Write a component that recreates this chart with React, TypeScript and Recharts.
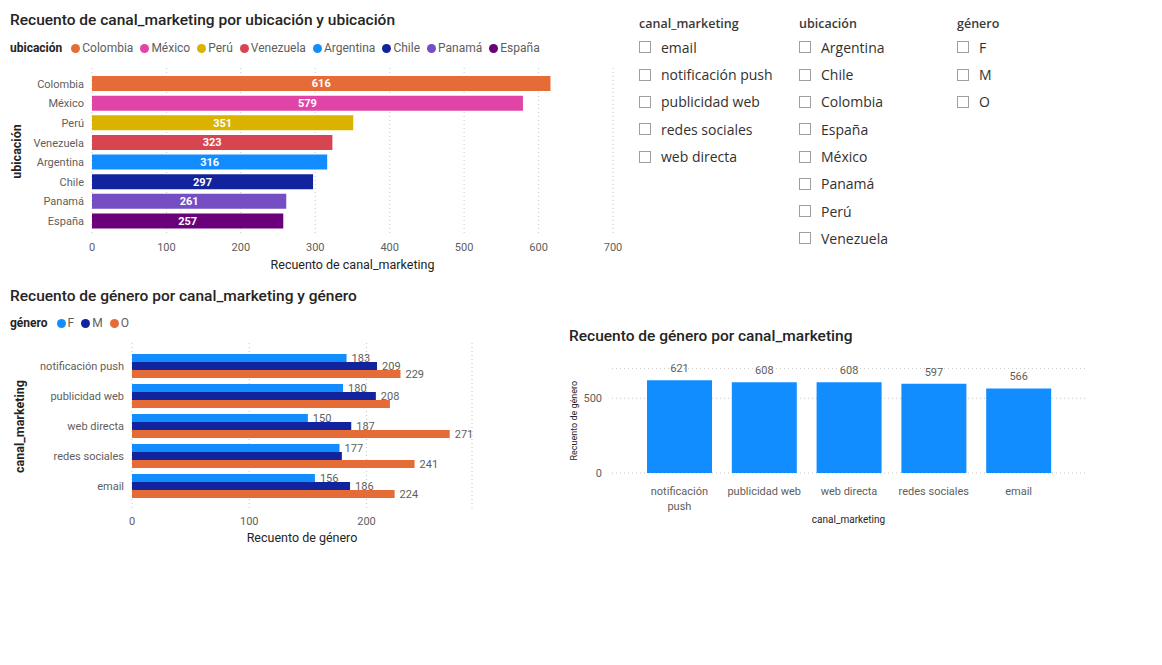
import { BarChart, Bar, XAxis, YAxis, CartesianGrid, LabelList, Cell } from 'recharts'

// Recuento por ubicación
const ubicaciones = ['Colombia', 'México', 'Perú', 'Venezuela', 'Argentina', 'Chile', 'Panamá', 'España']
const recuentoUbicacion = [616, 579, 351, 323, 316, 297, 261, 257]
const coloresUbicacion = ['#E66C37', '#E044A7', '#D9B300', '#D64550', '#118DFF', '#12239E', '#744EC2', '#6B007B']
const ticksUbicacion = [0, 100, 200, 300, 400, 500, 600, 700]

// Recuento de género por canal
const canales = ['notificación push', 'publicidad web', 'web directa', 'redes sociales', 'email']
const generos = ['F', 'M', 'O']
const coloresGenero = ['#118DFF', '#12239E', '#E66C37']
const recuentoF = [183, 180, 150, 177, 156]
const recuentoM = [209, 208, 187, 179, 186]
const recuentoO = [229, 220, 271, 241, 224]
const ticksGenero = [0, 100, 200]
// etiquetas que se solapan y no se muestran
const etiquetasOcultas: Record<string, string[]> = { F: [], M: ['redes sociales'], O: ['publicidad web'] }

// Total por canal
const recuentoCanal = [621, 608, 608, 597, 566]
const ticksCanal = [0, 500]

// Segmentaciones
const slicerCanal = ['email', 'notificación push', 'publicidad web', 'redes sociales', 'web directa']
const slicerUbicacion = ['Argentina', 'Chile', 'Colombia', 'España', 'México', 'Panamá', 'Perú', 'Venezuela']
const slicerGenero = ['F', 'M', 'O']

const FONT = 'Roboto, "DejaVu Sans", sans-serif'
const GRIS = '#605E5C'
const OSCURO = '#252423'
const GRID = '#C8C6C4'

const dataUbicacion = ubicaciones.map((name, i) => ({ name, value: recuentoUbicacion[i] }))
const dataGenero = canales.map((name, i) => ({ name, F: recuentoF[i], M: recuentoM[i], O: recuentoO[i] }))
const dataCanal = canales.map((name, i) => ({ name, value: recuentoCanal[i] }))

const tickStyle = { fontSize: 11, fill: GRIS, fontFamily: FONT }

function Titulo({ x, y, children }: { x: number; y: number; children: string }) {
  return (
    <div style={{ position: 'absolute', left: x, top: y - 10, lineHeight: '20px', fontSize: 15.5, fontWeight: 500, color: OSCURO, whiteSpace: 'nowrap' }}>
      {children}
    </div>
  )
}

function Leyenda({ x, y, titulo, items, colores }: { x: number; y: number; titulo: string; items: string[]; colores: string[] }) {
  return (
    <div style={{ position: 'absolute', left: x, top: y - 8, height: 16, display: 'flex', alignItems: 'center', fontSize: 12, whiteSpace: 'nowrap' }}>
      <span style={{ fontWeight: 700, color: OSCURO, marginRight: 9 }}>{titulo}</span>
      {items.map((it, i) => (
        <span key={it} style={{ display: 'flex', alignItems: 'center', marginRight: 7, color: GRIS }}>
          <span style={{ width: 9, height: 9, borderRadius: '50%', background: colores[i], marginRight: 2 }} />
          {it}
        </span>
      ))}
    </div>
  )
}

function Segmentacion({ x, titulo, items }: { x: number; titulo: string; items: string[] }) {
  return (
    <div style={{ position: 'absolute', left: x, top: 0, fontFamily: '"Open Sans", sans-serif' }}>
      <div style={{ position: 'absolute', top: 16, left: 0, fontSize: 12.5, fontWeight: 600, color: '#3B3A39', whiteSpace: 'nowrap', lineHeight: '16px' }}>
        {titulo}
      </div>
      {items.map((it, i) => (
        <div key={it} style={{ position: 'absolute', top: 47.3 + i * 27.3 - 9, left: 0, height: 18, display: 'flex', alignItems: 'center', whiteSpace: 'nowrap' }}>
          <span style={{ width: 12, height: 12, boxSizing: 'border-box', border: '1px solid #A19F9D', marginRight: 10 }} />
          <span style={{ fontSize: 14, color: '#323130' }}>{it}</span>
        </div>
      ))}
    </div>
  )
}

function etiquetaGenero(genero: string) {
  return (props: any) => {
    const { x, y, width, height } = props.viewBox || props
    if (etiquetasOcultas[genero].includes(canales[props.index])) return null
    return (
      <text x={x + width + 5} y={y + height / 2} dy="0.35em" fontSize={11} fill={GRIS} fontFamily={FONT}>
        {props.value}
      </text>
    )
  }
}

// las etiquetas largas se parten en dos líneas en el último espacio
function CanalTick({ x, y, payload }: any) {
  const txt: string = payload.value
  const corte = txt.lastIndexOf(' ')
  const lineas = txt.length > 15 && corte > 0 ? [txt.slice(0, corte), txt.slice(corte + 1)] : [txt]
  return (
    <text x={x} y={y} textAnchor="middle" fontSize={11} fill={GRIS} fontFamily={FONT}>
      {lineas.map((l, i) => (
        <tspan key={i} x={x} dy={i === 0 ? '0.71em' : 15}>
          {l}
        </tspan>
      ))}
    </text>
  )
}

export default function App() {
  return (
    <div style={{ position: 'absolute', left: 0, top: 0, width: 1162, height: 665, background: '#fff', fontFamily: FONT, overflow: 'hidden' }}>
      <Titulo x={10} y={20}>Recuento de canal_marketing por ubicación y ubicación</Titulo>
      <Leyenda x={10} y={48} titulo="ubicación" items={ubicaciones} colores={coloresUbicacion} />

      <div style={{ position: 'absolute', left: 0, top: 60 }}>
        <BarChart width={640} height={220} data={dataUbicacion} layout="vertical" margin={{ top: 8, right: 27, bottom: 6, left: 0 }}>
          <CartesianGrid horizontal={false} stroke={GRID} strokeDasharray="1 3" />
          <XAxis
            type="number"
            domain={[0, 700]}
            ticks={ticksUbicacion}
            axisLine={false}
            tickLine={false}
            height={39}
            tick={tickStyle}
            label={{ value: 'Recuento de canal_marketing', position: 'insideBottom', offset: 5, fontSize: 12.5, fill: OSCURO, fontFamily: FONT }}
          />
          <YAxis
            type="category"
            dataKey="name"
            width={92}
            interval={0}
            axisLine={false}
            tickLine={false}
            padding={{ top: 6, bottom: 4 }}
            tick={tickStyle}
            label={{ value: 'ubicación', angle: -90, position: 'insideLeft', offset: 17, fontSize: 12.5, fontWeight: 700, fill: OSCURO, fontFamily: FONT, style: { textAnchor: 'middle' } }}
          />
          <Bar dataKey="value" barSize={15} isAnimationActive={false}>
            {dataUbicacion.map((d, i) => (
              <Cell key={d.name} fill={coloresUbicacion[i]} />
            ))}
            <LabelList dataKey="value" position="center" fill="#fff" fontSize={11} fontWeight={700} fontFamily={FONT} />
          </Bar>
        </BarChart>
      </div>

      <Titulo x={10} y={296}>Recuento de género por canal_marketing y género</Titulo>
      <Leyenda x={10} y={323} titulo="género" items={generos} colores={coloresGenero} />

      <div style={{ position: 'absolute', left: 0, top: 335 }}>
        <BarChart width={500} height={220} data={dataGenero} layout="vertical" barGap={0} margin={{ top: 8, right: 28, bottom: 8, left: 0 }}>
          <CartesianGrid horizontal={false} stroke={GRID} strokeDasharray="1 3" />
          <XAxis
            type="number"
            domain={[0, 290]}
            ticks={ticksGenero}
            axisLine={false}
            tickLine={false}
            tickMargin={1}
            height={37}
            tick={tickStyle}
            label={{ value: 'Recuento de género', position: 'insideBottom', offset: 5, fontSize: 12.5, fill: OSCURO, fontFamily: FONT }}
          />
          <YAxis
            type="category"
            dataKey="name"
            width={132}
            interval={0}
            axisLine={false}
            tickLine={false}
            padding={{ top: 8, bottom: 9 }}
            tick={tickStyle}
            label={{ value: 'canal_marketing', angle: -90, position: 'insideLeft', offset: 20, fontSize: 12.5, fontWeight: 700, fill: OSCURO, fontFamily: FONT, style: { textAnchor: 'middle' } }}
          />
          {generos.map((g, i) => (
            <Bar key={g} dataKey={g} fill={coloresGenero[i]} barSize={8} isAnimationActive={false}>
              <LabelList dataKey={g} content={etiquetaGenero(g)} />
            </Bar>
          ))}
        </BarChart>
      </div>

      <Titulo x={569} y={336}>Recuento de género por canal_marketing</Titulo>

      <div style={{ position: 'absolute', left: 560, top: 355 }}>
        <BarChart width={540} height={180} data={dataCanal} margin={{ top: 13.4, right: 15, bottom: 7.5, left: 0 }}>
          <CartesianGrid vertical={false} stroke={GRID} strokeDasharray="1 3" />
          <XAxis
            dataKey="name"
            interval={0}
            axisLine={false}
            tickLine={false}
            tickMargin={8}
            height={54.5}
            padding={{ left: 25, right: 24 }}
            tick={<CanalTick />}
            label={{ value: 'canal_marketing', position: 'insideBottom', offset: 5, fontSize: 10, fill: OSCURO, fontFamily: FONT }}
          />
          <YAxis
            type="number"
            domain={[0, 700]}
            ticks={ticksCanal}
            width={52}
            axisLine={false}
            tickLine={false}
            tickMargin={4}
            tick={tickStyle}
            label={{ value: 'Recuento de género', angle: -90, position: 'insideLeft', offset: 14, fontSize: 9, fill: OSCURO, fontFamily: FONT, style: { textAnchor: 'middle' } }}
          />
          <Bar dataKey="value" fill="#118DFF" barSize={65} isAnimationActive={false}>
            <LabelList dataKey="value" position="top" offset={8} fill={GRIS} fontSize={11} fontFamily={FONT} />
          </Bar>
        </BarChart>
      </div>

      <Segmentacion x={639} titulo="canal_marketing" items={slicerCanal} />
      <Segmentacion x={799} titulo="ubicación" items={slicerUbicacion} />
      <Segmentacion x={957} titulo="género" items={slicerGenero} />
    </div>
  )
}
